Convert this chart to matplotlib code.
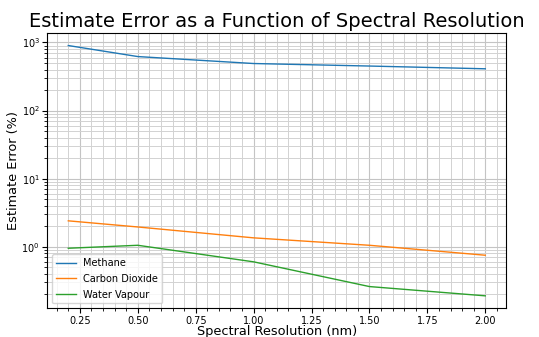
import matplotlib
matplotlib.use("Agg")
import matplotlib.pyplot as plt
from matplotlib.ticker import AutoMinorLocator

resolution = [0.2, 0.5, 1.0, 1.5, 2.0]
methane = [900, 620, 490, 450, 410]
carbon_dioxide = [2.4, 1.95, 1.35, 1.05, 0.75]
water_vapour = [0.95, 1.05, 0.6, 0.26, 0.19]

fig = plt.figure(figsize=(5.39, 3.37), dpi=100)
ax = fig.add_axes([0.088, 0.085, 0.851, 0.817])

ax.plot(resolution, methane, linewidth=1, label="Methane")
ax.plot(resolution, carbon_dioxide, linewidth=1, label="Carbon Dioxide")
ax.plot(resolution, water_vapour, linewidth=1, label="Water Vapour")

ax.set_yscale("log")
ax.xaxis.set_minor_locator(AutoMinorLocator(5))
ax.grid(which="major", color="#c4c4c4", linewidth=0.8)
ax.grid(which="minor", color="#d2d2d2", linewidth=0.7)
ax.tick_params(labelsize=7, pad=2)

ax.set_title("Estimate Error as a Function of Spectral Resolution", fontsize=14, pad=4)
ax.set_xlabel("Spectral Resolution (nm)", fontsize=9.3, labelpad=-0.5)
ax.set_ylabel("Estimate Error (%)", fontsize=9.3, labelpad=1)
ax.legend(loc="lower left", fontsize=7, labelspacing=0.6)

fig.savefig("out.png", dpi=100)
